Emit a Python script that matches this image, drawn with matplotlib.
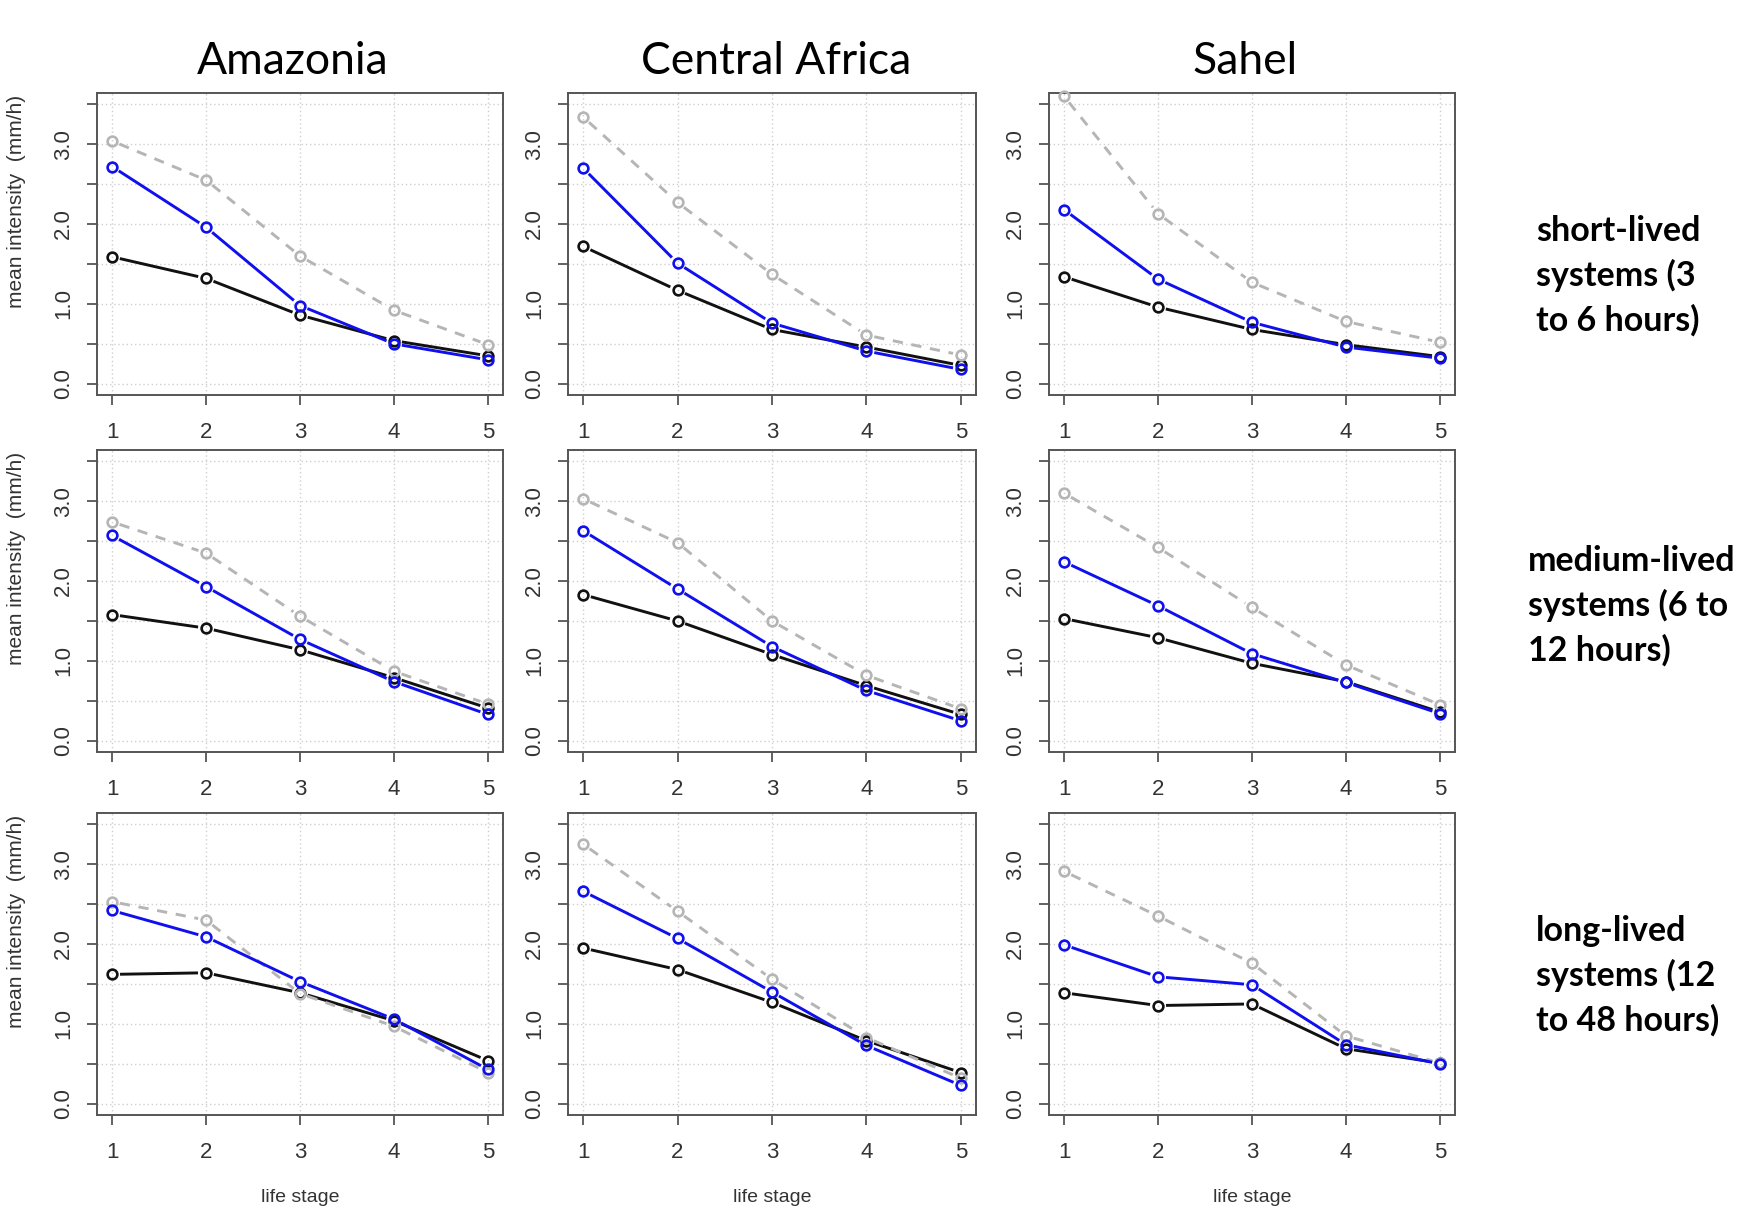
import numpy as np
import matplotlib
matplotlib.use("Agg")
import matplotlib.pyplot as plt

regions = ["Amazonia", "Central Africa", "Sahel"]
row_labels = ["short-lived\nsystems (3\nto 6 hours)",
              "medium-lived\nsystems (6 to\n12 hours)",
              "long-lived\nsystems (12\nto 48 hours)"]
stage = [1, 2, 3, 4, 5]

# [row][col] -> values at life stages 1..5
black = [
    [[1.59, 1.32, 0.86, 0.54, 0.35], [1.72, 1.17, 0.68, 0.46, 0.23], [1.34, 0.96, 0.68, 0.49, 0.34]],
    [[1.58, 1.41, 1.14, 0.79, 0.41], [1.83, 1.50, 1.08, 0.69, 0.33], [1.53, 1.29, 0.97, 0.74, 0.36]],
    [[1.62, 1.64, 1.39, 1.04, 0.54], [1.95, 1.68, 1.27, 0.79, 0.39], [1.39, 1.23, 1.25, 0.69, 0.51]],
]
blue = [
    [[2.72, 1.96, 0.98, 0.50, 0.30], [2.70, 1.51, 0.76, 0.41, 0.18], [2.18, 1.31, 0.77, 0.46, 0.32]],
    [[2.57, 1.93, 1.27, 0.74, 0.33], [2.63, 1.90, 1.18, 0.63, 0.25], [2.24, 1.69, 1.09, 0.73, 0.34]],
    [[2.42, 2.09, 1.53, 1.06, 0.43], [2.66, 2.07, 1.40, 0.73, 0.23], [1.99, 1.59, 1.49, 0.74, 0.50]],
]
grey = [
    [[3.04, 2.55, 1.60, 0.92, 0.49], [3.34, 2.27, 1.37, 0.61, 0.36], [3.60, 2.13, 1.27, 0.78, 0.52]],
    [[2.74, 2.35, 1.56, 0.87, 0.46], [3.03, 2.48, 1.50, 0.82, 0.40], [3.10, 2.42, 1.67, 0.95, 0.45]],
    [[2.53, 2.30, 1.38, 0.97, 0.39], [3.25, 2.41, 1.56, 0.83, 0.32], [2.91, 2.35, 1.76, 0.85, 0.51]],
]
yticks = [0, 0.5, 1, 1.5, 2, 2.5, 3, 3.5]
ytick_labels = ["0.0", "", "1.0", "", "2.0", "", "3.0", ""]

W, H = 1749, 1211
fig = plt.figure(figsize=(W / 100, H / 100), dpi=100)

col_left = [97, 568, 1049]
col_w = [406, 408, 406]
row_top = [93, 450, 813]
ax_h = 302


def draw_b(ax, x, y, color, dashed=False, gap=8):
    # R type="b": segments stop short of the points
    pts = ax.transData.transform(np.column_stack([x, y]))
    inv = ax.transData.inverted()
    for p, q in zip(pts[:-1], pts[1:]):
        d = q - p
        L = np.hypot(*d)
        if L <= 2 * gap:
            continue
        u = d / L
        seg = inv.transform(np.array([p + u * gap, q - u * gap]))
        ax.plot(seg[:, 0], seg[:, 1], color=color, lw=2.1,
                ls=(0, (3.5, 3.0)) if dashed else "-", zorder=3,
                solid_capstyle="butt", clip_on=False)
    ax.plot(x, y, "o", ms=7, mfc="none", mec=color, mew=1.9, zorder=4, clip_on=False)


for r in range(3):
    for c in range(3):
        left = col_left[c] / W
        bottom = 1 - (row_top[r] + ax_h) / H
        ax = fig.add_axes([left, bottom, col_w[c] / W, ax_h / H])
        ax.set_xlim(0.84, 5.16)
        ax.set_ylim(-0.14, 3.64)
        ax.set_xticks(stage)
        ax.set_yticks(yticks)
        ax.set_yticklabels(ytick_labels)
        ax.grid(True, color="#cfcfcf", ls=(0, (1, 2)), lw=1.0)
        ax.set_axisbelow(True)
        for s in ax.spines.values():
            s.set_color("#555555")
            s.set_linewidth(1.4)
        ax.tick_params(axis="both", colors="#555555", length=7.5, width=1.3,
                       labelsize=16, labelcolor="#333333")
        ax.tick_params(axis="x", pad=12)
        ax.tick_params(axis="y", pad=9, labelrotation=90)
        for lab in ax.get_yticklabels():
            lab.set_va("center")
            lab.set_fontfamily("Liberation Sans")
        for lab in ax.get_xticklabels():
            lab.set_fontfamily("Liberation Sans")

        draw_b(ax, stage, black[r][c], "#111111")
        draw_b(ax, stage, grey[r][c], "#b5b5b5", dashed=True)
        draw_b(ax, stage, blue[r][c], "#1010ee")

        if c == 0:
            fig.text(17 / W, 1 - (row_top[r] + 2) / H, "mean intensity  (mm/h)",
                     rotation=90, ha="center", va="top", fontsize=15,
                     color="#333333", family="Liberation Sans")
        if r == 2:
            fig.text((col_left[c] + col_w[c] / 2) / W, 1 - 1198 / H, "life stage",
                     ha="center", va="center", fontsize=14, color="#333333",
                     family="Liberation Sans")

title_x = [293, 776, 1245]
for name, tx in zip(regions, title_x):
    fig.text(tx / W, 1 - 61 / H, name, ha="center", va="center", fontsize=32,
             family="Lato", color="black")

label_pos = [(1536, 276), (1528, 606), (1536, 976)]
for txt, (lx, ly) in zip(row_labels, label_pos):
    fig.text(lx / W, 1 - ly / H, txt, ha="left", va="center", fontsize=24.5,
             family="Lato", fontweight="bold", linespacing=1.45, color="black")

fig.savefig("out.png", dpi=100)
